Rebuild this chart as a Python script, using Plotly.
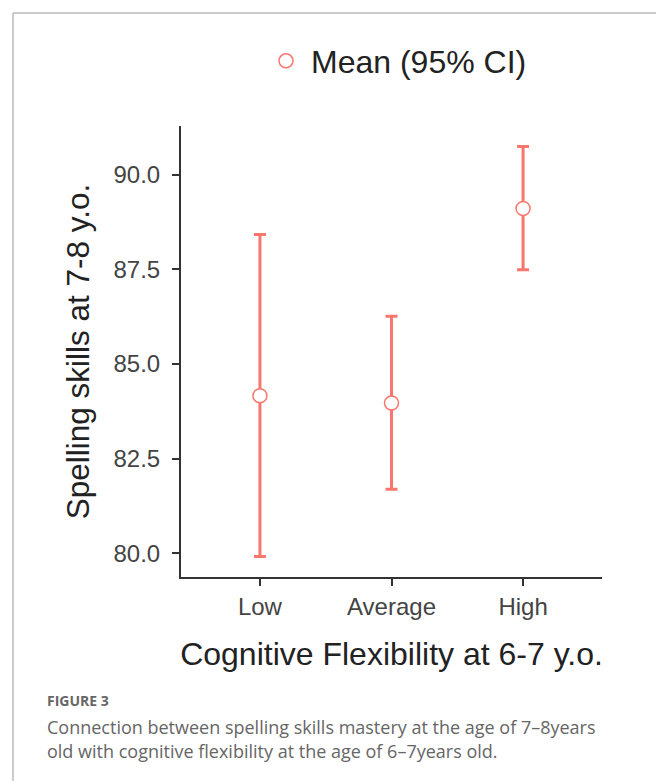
import plotly.graph_objects as go

categories = ["Low", "Average", "High"]
means = [84.16, 83.97, 89.11]
upper = [88.42, 86.26, 90.75]
lower = [79.91, 81.69, 87.49]
y_ticks = [80.0, 82.5, 85.0, 87.5, 90.0]
y_tick_labels = ["80.0", "82.5", "85.0", "87.5", "90.0"]

W, H = 656, 781
L, R, T, B = 181, 602, 126, 577  # plot area in pixels
pw, ph = R - L, B - T

def px_x(x):
    return (x - L) / pw

def px_y(y):
    return (B - y) / ph

color = "#F8766D"
fig = go.Figure()
fig.add_trace(go.Scatter(
    x=[1, 2, 3], y=means,
    mode="markers",
    name="Mean (95% CI)",
    marker=dict(symbol="circle", size=14, color="white",
                line=dict(color=color, width=1.5)),
    error_y=dict(type="data", symmetric=False,
                 array=[u - m for u, m in zip(upper, means)],
                 arrayminus=[m - l for m, l in zip(means, lower)],
                 color=color, thickness=3, width=6),
))

fig.update_layout(
    width=W, height=H,
    margin=dict(l=L, r=W - R, t=T, b=H - B, pad=0),
    paper_bgcolor="white", plot_bgcolor="white",
    font=dict(family="Liberation Sans, Arial, sans-serif", color="#333333"),
    showlegend=True,
    legend=dict(orientation="h", x=px_x(261), xanchor="left",
                y=px_y(61), yanchor="middle", itemwidth=40,
                font=dict(size=32, color="#222222"),
                bgcolor="rgba(0,0,0,0)"),
    xaxis=dict(range=[0.4, 3.6], tickmode="array", tickvals=[1, 2, 3],
               ticktext=categories, showgrid=False, zeroline=False,
               showline=True, linecolor="#333333", linewidth=2,
               ticks="outside", ticklen=7, tickwidth=2, tickcolor="#333333",
               tickfont=dict(size=24, color="#444444"),
               title=dict(text="Cognitive Flexibility at 6-7 y.o.",
                          font=dict(size=32, color="#222222"), standoff=24)),
    yaxis=dict(range=[79.37, 91.29], tickmode="array", tickvals=y_ticks,
               ticktext=y_tick_labels, showgrid=False, zeroline=False,
               showline=True, linecolor="#333333", linewidth=2,
               ticks="outside", ticklen=7, tickwidth=2, tickcolor="#333333",
               ticklabelstandoff=7,
               tickfont=dict(size=24, color="#444444"),
               title=dict(text="Spelling skills at 7-8 y.o.",
                          font=dict(size=31.5, color="#222222"), standoff=14)),
)

# card border (left and top edges)
fig.add_shape(type="line", xref="paper", yref="paper",
              x0=px_x(13), x1=px_x(13), y0=px_y(13), y1=px_y(800),
              line=dict(color="#BBBBBB", width=1.5))
fig.add_shape(type="line", xref="paper", yref="paper",
              x0=px_x(13), x1=px_x(680), y0=px_y(13), y1=px_y(13),
              line=dict(color="#BBBBBB", width=1.5))

cap_font = "Open Sans, Noto Sans, sans-serif"
fig.add_annotation(text="<b>FIGURE 3</b>", xref="paper", yref="paper",
                   x=px_x(45), y=px_y(700), xanchor="left", yanchor="middle",
                   showarrow=False, font=dict(family=cap_font, size=14, color="#666666"))
fig.add_annotation(text="Connection between spelling skills mastery at the age of 7\u20138years",
                   xref="paper", yref="paper",
                   x=px_x(45), y=px_y(727), xanchor="left", yanchor="middle",
                   showarrow=False, font=dict(family=cap_font, size=18, color="#666666"))
fig.add_annotation(text="old with cognitive flexibility at the age of 6\u20137years old.",
                   xref="paper", yref="paper",
                   x=px_x(45), y=px_y(751), xanchor="left", yanchor="middle",
                   showarrow=False, font=dict(family=cap_font, size=18, color="#666666"))

fig.write_html("out.html", config={"displayModeBar": False},
               post_script="document.body.style.margin='0';")
